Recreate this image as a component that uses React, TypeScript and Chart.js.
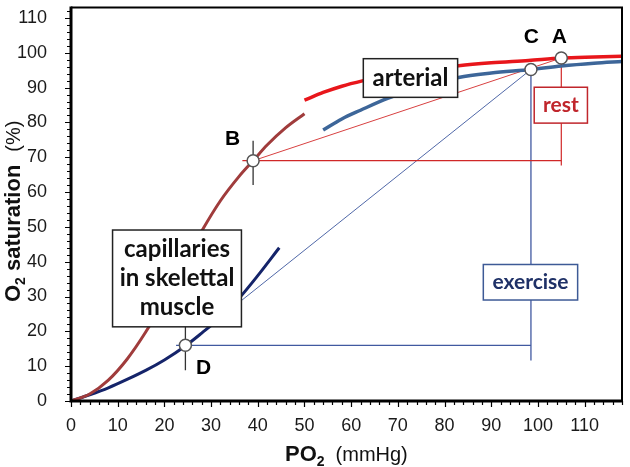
import React, { useEffect, useRef } from "react";
import { Chart, registerables } from "chart.js";
Chart.register(...registerables);

// ---- data ----
const arterialRestX = [50, 54, 58, 62.6, 68, 75, 83, 90, 98, 105, 112, 118];
const arterialRestY = [86.4, 88.6, 90.4, 92, 93.6, 95, 96.3, 97.1, 97.8, 98.5, 98.8, 99];
const arterialExX = [54, 58, 62, 67.8, 75, 83, 90, 98.5, 105, 112, 118];
const arterialExY = [77.8, 81, 83.5, 86.9, 90, 92.9, 94.2, 95.2, 96.2, 97, 97.5];
const capRestX = [0, 4, 8, 12, 16, 20, 24, 28, 32, 36, 39, 42, 46, 50];
const capRestY = [0, 2, 6, 12, 19.8, 29, 39, 48.8, 57.5, 64.5, 69, 73.5, 78.5, 82.5];
const capExX = [0, 4, 8, 12, 16, 20, 24.5, 28, 32, 36, 40, 44.6];
const capExY = [0, 1.8, 3.8, 6.2, 8.8, 11.8, 15.8, 19.5, 24, 29.5, 36, 44];

const pointNames = ["A", "B", "C", "D"];
const pointX = [105, 39, 98.5, 24.5];
const pointY = [98.5, 69, 95.2, 16];

const xTickLabels = [0, 10, 20, 30, 40, 50, 60, 70, 80, 90, 100, 110];
const yTickLabels = [0, 10, 20, 30, 40, 50, 60, 70, 80, 90, 100, 110];

const X_MAX = 118;
const Y_MAX = 113;

const zip = (xs: number[], ys: number[]) => xs.map((x, i) => ({ x, y: ys[i] }));
const P = (name: string) => {
  const i = pointNames.indexOf(name);
  return { x: pointX[i], y: pointY[i] };
};

// annotation boxes (data coordinates)
const boxes = [
  { lines: ["arterial"], x0: 62.6, x1: 82.8, y0: 98.3, y1: 87.2, color: "#111", border: "#222", size: 24 },
  { lines: ["capillaries", "in skelettal", "muscle"], x0: 8.9, x1: 36.5, y0: 49.1, y1: 21.3, color: "#111", border: "#222", size: 24 },
  { lines: ["rest"], x0: 99.2, x1: 110.6, y0: 90.1, y1: 79.8, color: "#C0262C", border: "#C0262C", size: 21 },
  { lines: ["exercise"], x0: 88.3, x1: 108.5, y0: 39.2, y1: 29.0, color: "#1F3167", border: "#3D5A96", size: 21 },
];
const letterOffsets: Record<string, { dx: number; dy: number }> = {
  A: { dx: -0.4, dy: 6 },
  B: { dx: -4.4, dy: 6.3 },
  C: { dx: 0.1, dy: 9.3 },
  D: { dx: 3.9, dy: -6.6 },
};

const decor = {
  id: "decor",
  afterDatasetsDraw(chart: any) {
    const { ctx, scales } = chart;
    const xs = scales.x, ys = scales.y;
    ctx.save();
    for (const b of boxes) {
      const l = xs.getPixelForValue(b.x0), r = xs.getPixelForValue(b.x1);
      const t = ys.getPixelForValue(b.y0), bt = ys.getPixelForValue(b.y1);
      ctx.fillStyle = "#fff";
      ctx.fillRect(l, t, r - l, bt - t);
      ctx.strokeStyle = b.border;
      ctx.lineWidth = 1.5;
      ctx.strokeRect(l, t, r - l, bt - t);
      ctx.fillStyle = b.color;
      ctx.font = `bold ${b.size}px Lato, "Open Sans", sans-serif`;
      ctx.textAlign = "center";
      ctx.textBaseline = "middle";
      const lh = b.size * 1.2;
      const cy = (t + bt) / 2;
      const cx = (l + r) / 2;
      b.lines.forEach((s, i) => {
        ctx.fillText(s, cx, cy + (i - (b.lines.length - 1) / 2) * lh);
      });
    }
    ctx.fillStyle = "#000";
    ctx.font = 'bold 21px "Liberation Sans", Arial, sans-serif';
    ctx.textAlign = "center";
    ctx.textBaseline = "middle";
    pointNames.forEach((n, i) => {
      const o = letterOffsets[n];
      ctx.fillText(n, xs.getPixelForValue(pointX[i] + o.dx), ys.getPixelForValue(pointY[i] + o.dy));
    });
    ctx.restore();
  },
  afterDraw(chart: any) {
    const { ctx, chartArea, scales } = chart;
    const xs = scales.x, ys = scales.y;
    const { left, right, top, bottom } = chartArea;
    ctx.save();
    ctx.strokeStyle = "#000";
    // ticks
    ctx.lineWidth = 1.2;
    ctx.beginPath();
    for (let v = 0; v <= X_MAX; v += 2) {
      const px = Math.round(xs.getPixelForValue(v)) + 0.5;
      const len = v % 10 === 0 ? 6 : 4;
      ctx.moveTo(px, bottom);
      ctx.lineTo(px, bottom + len);
    }
    for (let v = 0; v <= Y_MAX; v += 2) {
      const py = Math.round(ys.getPixelForValue(v)) + 0.5;
      const len = v % 10 === 0 ? 6 : 4;
      ctx.moveTo(left, py);
      ctx.lineTo(left - len, py);
    }
    ctx.stroke();
    // frame
    ctx.lineWidth = 2;
    ctx.beginPath();
    ctx.moveTo(left, top);
    ctx.lineTo(right, top);
    ctx.lineTo(right, bottom);
    ctx.stroke();
    ctx.lineWidth = 3;
    ctx.beginPath();
    ctx.moveTo(left, top - 1);
    ctx.lineTo(left, bottom);
    ctx.lineTo(right + 1, bottom);
    ctx.stroke();

    // axis titles
    ctx.fillStyle = "#111";
    ctx.textBaseline = "alphabetic";
    ctx.textAlign = "left";
    const bold = 'bold 22px "Liberation Sans", Arial, sans-serif';
    const sub = 'bold 14px "Liberation Sans", Arial, sans-serif';
    const reg = '20px "Liberation Sans", Arial, sans-serif';
    // x title
    let cx = 285;
    const by = 461;
    ctx.font = bold;
    ctx.fillText("PO", cx, by);
    cx += ctx.measureText("PO").width;
    ctx.font = sub;
    ctx.fillText("2", cx, by + 5);
    cx += ctx.measureText("2").width + 11;
    ctx.font = reg;
    ctx.fillText("(mmHg)", cx, by);
    // y title
    ctx.translate(20, 302);
    ctx.rotate(-Math.PI / 2);
    let ty = 0;
    ctx.font = bold;
    ctx.fillText("O", ty, 0);
    ty += ctx.measureText("O").width;
    ctx.font = sub;
    ctx.fillText("2", ty, 5);
    ty += ctx.measureText("2").width;
    ctx.font = bold;
    ctx.fillText(" saturation", ty, 0);
    ty += ctx.measureText(" saturation").width + 13;
    ctx.font = reg;
    ctx.fillText("(%)", ty, 0);
    ctx.restore();
  },
};

const thin = (data: { x: number; y: number }[], color: string, width: number) => ({
  type: "line",
  data,
  borderColor: color,
  borderWidth: width,
  pointRadius: 0,
  tension: 0,
  fill: false,
});

export default function App() {
  const ref = useRef<HTMLCanvasElement>(null);
  useEffect(() => {
    if (!ref.current) return;
    const A = P("A"), B = P("B"), C = P("C"), D = P("D");
    const curve = (data: any, color: string, width: number) => ({
      type: "line",
      data,
      borderColor: color,
      borderWidth: width,
      pointRadius: 0,
      cubicInterpolationMode: "monotone",
      fill: false,
    });
    const chart = new Chart(ref.current, {
      type: "line",
      data: {
        datasets: [
          {
            type: "line",
            data: pointNames.map((n) => P(n)),
            showLine: false,
            pointRadius: 6,
            pointBackgroundColor: "#fff",
            pointBorderColor: "#555",
            pointBorderWidth: 1.5,
          } as any,
          thin([{ x: B.x, y: 74.7 }, { x: B.x, y: 62 }], "#333", 1.3),
          thin([{ x: D.x, y: 24 }, { x: D.x, y: 8.8 }], "#333", 1.3),
          curve(zip(arterialRestX, arterialRestY), "#E8161B", 3.5),
          curve(zip(arterialExX, arterialExY), "#3D6699", 3.5),
          curve(zip(capRestX, capRestY), "#A03C3C", 3),
          curve(zip(capExX, capExY), "#15246A", 3),
          thin([{ x: 36.7, y: B.y }, { x: A.x, y: B.y }], "#D02828", 1.2),
          thin([A, { x: A.x, y: 67.6 }], "#D02828", 1.2),
          thin([B, A], "#D84040", 1),
          thin([{ x: 22.5, y: D.y }, { x: C.x, y: D.y }], "#4059A0", 1.3),
          thin([C, { x: C.x, y: 11.6 }], "#4059A0", 1.3),
          thin([D, C], "#5068A8", 1),
        ] as any,
      },
      options: {
        responsive: false,
        animation: false,
        layout: { padding: { top: 3, right: 8, left: 0, bottom: 0 } },
        plugins: { legend: { display: false }, tooltip: { enabled: false } },
        scales: {
          x: {
            type: "linear",
            min: 0,
            max: X_MAX,
            grid: { display: false },
            border: { display: false },
            ticks: {
              stepSize: 10,
              includeBounds: false,
              autoSkip: false,
              maxRotation: 0,
              padding: 6,
              color: "#1a1a1a",
              font: { size: 18, family: '"Liberation Sans", Arial, sans-serif' },
              callback: (v: any) => (xTickLabels.includes(v) ? String(v) : ""),
            },
            afterFit: (s: any) => {
              s.height = 66;
              s.paddingLeft = 0; s.paddingRight = 0; s.paddingTop = 0; s.paddingBottom = 0;
            },
          },
          y: {
            type: "linear",
            min: 0,
            max: Y_MAX,
            grid: { display: false },
            border: { display: false },
            ticks: {
              stepSize: 10,
              includeBounds: false,
              autoSkip: false,
              padding: 16,
              color: "#1a1a1a",
              font: { size: 18, family: '"Liberation Sans", Arial, sans-serif' },
              callback: (v: any) => (yTickLabels.includes(v) ? String(v) : ""),
            },
            afterFit: (s: any) => {
              s.width = 71;
              s.paddingLeft = 0; s.paddingRight = 0; s.paddingTop = 0; s.paddingBottom = 0;
            },
          },
        },
      } as any,
      plugins: [decor],
    });
    return () => chart.destroy();
  }, []);
  return (
    <div style={{ position: "fixed", left: 0, top: 0, width: 630, height: 467, background: "#fff" }}>
      <canvas ref={ref} width={630} height={467} style={{ display: "block" }} />
    </div>
  );
}
